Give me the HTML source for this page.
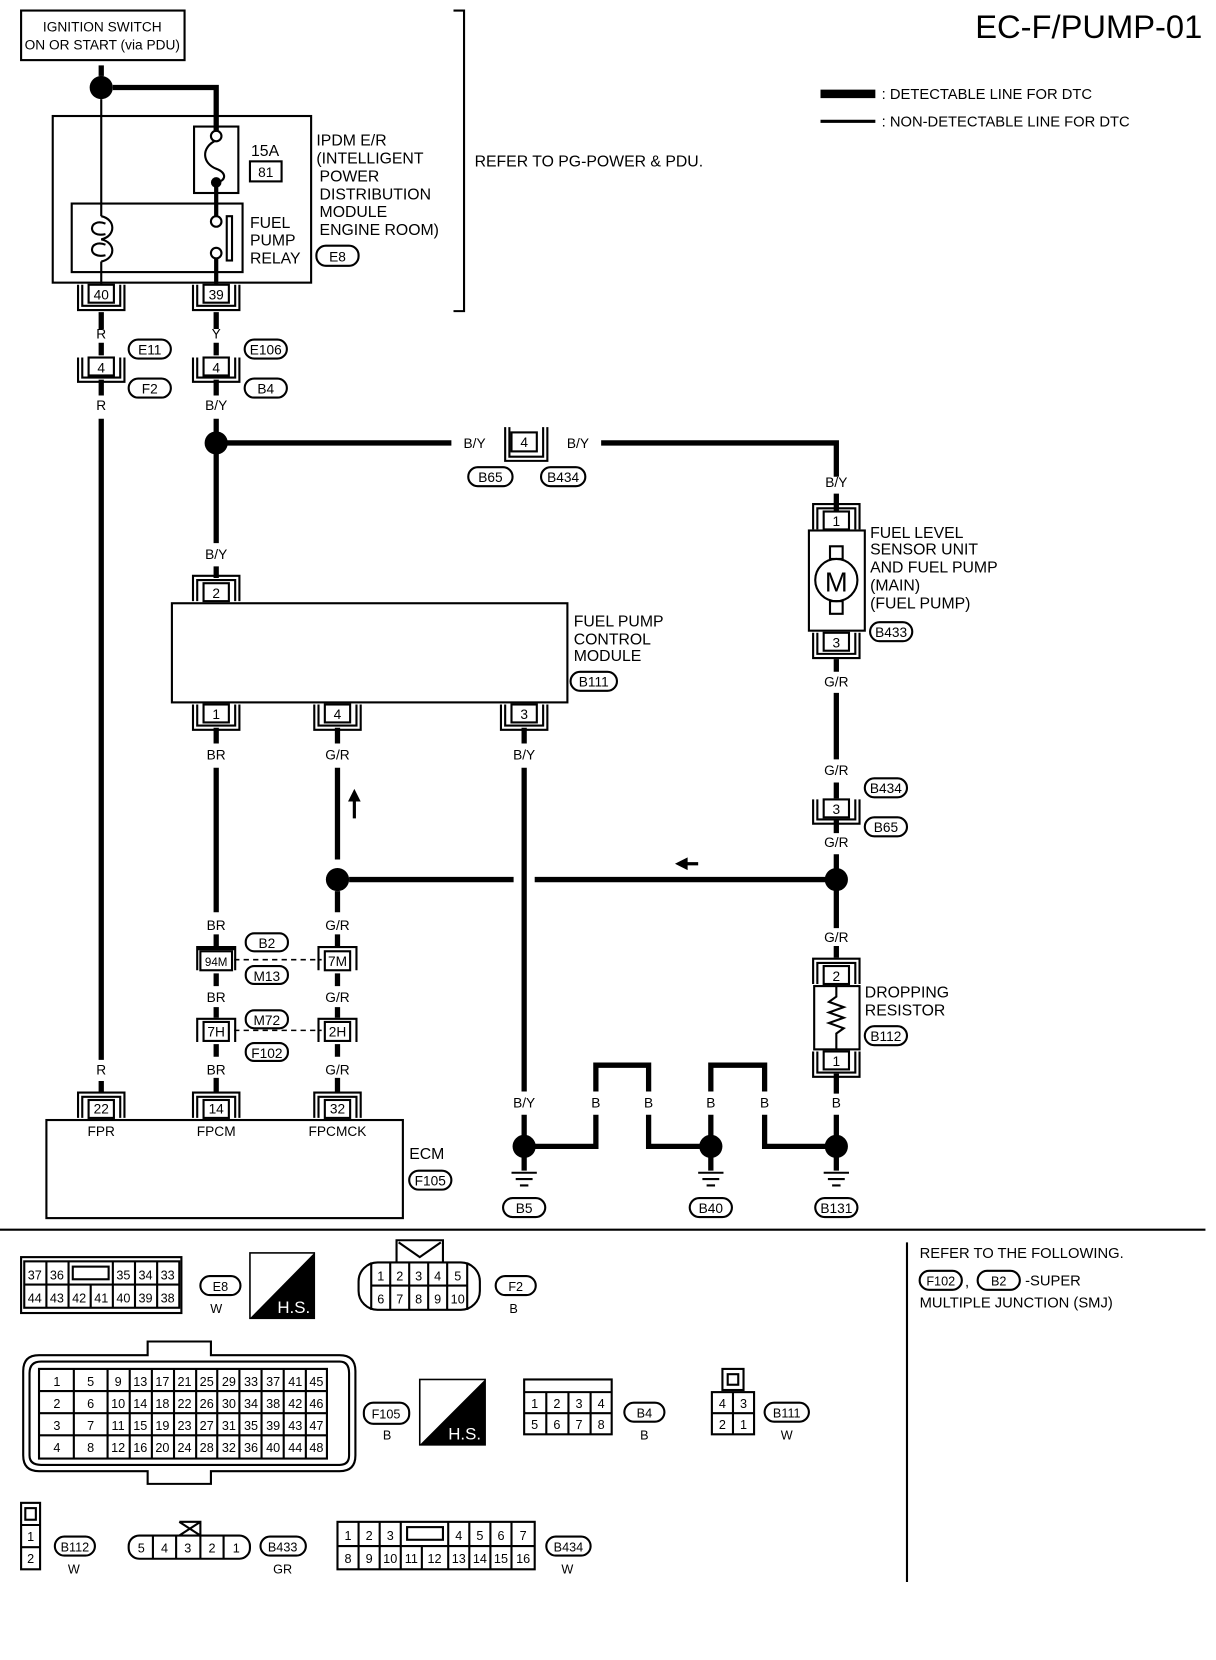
<!DOCTYPE html>
<html><head><meta charset="utf-8"><style>
html,body{margin:0;padding:0;background:#fff}
svg{display:block}
text{font-family:"Liberation Sans",sans-serif;fill:#000}
.s{font-size:14px}
.m{font-size:15px}
.c{font-size:13px;text-anchor:middle}
.n{font-size:12px;text-anchor:middle}
</style></head><body>
<svg width="1216" height="1660" viewBox="0 0 1153 1574" preserveAspectRatio="none" xmlns="http://www.w3.org/2000/svg">
<g fill="none" stroke="#000">
<rect x="20" y="10" width="155" height="47" stroke-width="2"/>
<rect x="50" y="110" width="245" height="158" stroke-width="2"/>
<rect x="184" y="120" width="42" height="63" stroke-width="2"/>
<rect x="68" y="193" width="162" height="65" stroke-width="2"/>
<rect x="237" y="153" width="30" height="19" stroke-width="2"/>
<path d="M96 94V205M96 248V270" stroke-width="2"/>
<path d="M96 62V72" stroke-width="5"/>
<path d="M107 83H205V125" stroke-width="5"/>
<path d="M205 133C190 140 192 155 205 160C216 164 214 172 205 173" stroke-width="2"/>
<path d="M205 173V206M205 244V270" stroke-width="4"/>
<path d="M96 205C110 208 110 224 96 227C110 230 110 245 96 248M100 212C84 206 82 226 100 222M100 232C84 226 82 246 100 242" stroke-width="2"/>
<rect x="215" y="205" width="5" height="42" stroke-width="2"/>
<circle cx="205" cy="129" r="5" stroke-width="2" fill="#fff"/>
<circle cx="205" cy="210" r="5" stroke-width="2" fill="#fff"/>
<circle cx="205" cy="240" r="5" stroke-width="2" fill="#fff"/>
<path d="M430 10H440V295H430" stroke-width="2"/>
<path d="M778 89H830" stroke-width="8"/>
<path d="M778 115H830" stroke-width="3"/>
<g stroke-width="5">
<path d="M96 296V312M96 325V337M96 360V375M96 397V1005M96 1025V1035"/>
<path d="M205 296V312M205 325V337M205 360V375M205 397V420H428M570 420H793V452M793 468V484"/>
<path d="M205 420V515M205 537V548"/>
<path d="M205 690V705M205 728V865M205 886V897M205 923V935M205 955V965M205 990V1002M205 1022V1036"/>
<path d="M320 690V705M320 728V815M320 845V865M320 886V897M320 923V935M320 955V965M320 990V1002M320 1022V1036"/>
<path d="M497 690V705M497 728V1035M497 1057V1080"/>
<path d="M331 834H487M507 834H793"/>
<path d="M793 625V637M793 657V720M793 742V757M793 778V790M793 810V880M793 897V908M793 1018V1037M793 1057V1087"/>
<path d="M497 1087H565V1057M565 1035V1010H615V1035M615 1057V1087H674V1057M674 1035V1010H725V1035M725 1057V1087H793"/>
<path d="M497 1087V1110M674 1087V1110M793 1087V1110"/>
</g>
<path d="M222 910H305M222 977H305" stroke-width="1.5" stroke-dasharray="5,4"/>
<path d="M336 776V758" stroke-width="3"/>
<path d="M645 819H662" stroke-width="3"/>
<g stroke-width="2"><path d="M485 1112H509M489 1118H505M493 1124H501"/><path d="M662 1112H686M666 1118H682M670 1124H678"/><path d="M781 1112H805M785 1118H801M789 1124H797"/></g>
<rect x="163" y="572" width="375" height="94" stroke-width="2"/>
<rect x="767" y="503" width="53" height="95" stroke-width="2"/>
<circle cx="793" cy="550" r="20" stroke-width="2"/>
<rect x="787" y="518" width="12" height="12" stroke-width="2"/>
<rect x="787" y="570" width="12" height="12" stroke-width="2"/>
<rect x="772" y="935" width="43" height="60" stroke-width="2"/>
<path d="M793 935V945L786 950L800 955L786 960L800 965L786 970L800 975L793 980V995" stroke-width="2"/>
<rect x="44" y="1062" width="338" height="93" stroke-width="2"/>
<path d="M0 1166H1143" stroke-width="2"/>
<path d="M860 1178V1500" stroke-width="2"/>
</g>
<g fill="#000">
<circle cx="96" cy="83" r="11"/><circle cx="205" cy="173" r="5"/>
<circle cx="205" cy="420" r="11"/><circle cx="320" cy="834" r="11"/><circle cx="793" cy="834" r="11"/>
<circle cx="497" cy="1087" r="11"/><circle cx="674" cy="1087" r="11"/><circle cx="793" cy="1087" r="11"/>
<path d="M330 760L336 748L342 760Z"/><path d="M640 819L652 813L652 825Z"/>
</g>
<g fill="none" stroke="#000" stroke-width="2">
<path d="M78 270V290H114V270M74 270V294H118V270"/><rect x="84" y="270" width="24" height="17"/>
<path d="M187 270V290H223V270M183 270V294H227V270"/><rect x="193" y="270" width="24" height="17"/>
<path d="M187 668V688H223V668M183 668V692H227V668"/><rect x="193" y="668" width="24" height="17"/>
<path d="M302 668V688H338V668M298 668V692H342V668"/><rect x="308" y="668" width="24" height="17"/>
<path d="M479 668V688H515V668M475 668V692H519V668"/><rect x="485" y="668" width="24" height="17"/>
<path d="M187 570V550H223V570M183 570V546H227V570"/><rect x="193" y="553" width="24" height="17"/>
<path d="M78 1060V1040H114V1060M74 1060V1036H118V1060"/><rect x="84" y="1043" width="24" height="17"/>
<path d="M187 1060V1040H223V1060M183 1060V1036H227V1060"/><rect x="193" y="1043" width="24" height="17"/>
<path d="M302 1060V1040H338V1060M298 1060V1036H342V1060"/><rect x="308" y="1043" width="24" height="17"/>
<path d="M78 339V358H114V339M74 339V362H118V339"/><rect x="84" y="339" width="24" height="17"/>
<path d="M187 339V358H223V339M183 339V362H227V339"/><rect x="193" y="339" width="24" height="17"/>
<path d="M483 405V433H515V405M479 405V437H519V405"/><rect x="485" y="410" width="24" height="18"/>
<path d="M775 758V777H811V758M771 758V781H815V758"/><rect x="781" y="758" width="24" height="17"/>
<path d="M187 920V898H223V920M187 900H223"/><rect x="190" y="902" width="30" height="18"/>
<path d="M302 920V898H338V920"/><rect x="308" y="902" width="24" height="18"/>
<path d="M187 988V966H223V988"/><rect x="193" y="969" width="24" height="18"/>
<path d="M302 988V966H338V988"/><rect x="308" y="969" width="24" height="18"/>
<path d="M775 502V482H811V502M771 502V478H815V502"/><rect x="781" y="485" width="24" height="17"/>
<path d="M775 600V620H811V600M771 600V624H815V600"/><rect x="781" y="600" width="24" height="17"/>
<path d="M775 933V913H811V933M771 933V909H815V933"/><rect x="781" y="916" width="24" height="17"/>
<path d="M775 997V1017H811V997M771 997V1021H815V997"/><rect x="781" y="997" width="24" height="17"/>
<rect x="300" y="233" width="40" height="19" rx="9"/>
<rect x="122" y="322" width="40" height="18" rx="9"/><rect x="122" y="359" width="40" height="18" rx="9"/>
<rect x="232" y="322" width="40" height="18" rx="9"/><rect x="232" y="359" width="40" height="18" rx="9"/>
<rect x="444" y="443" width="42" height="18" rx="9"/><rect x="513" y="443" width="42" height="18" rx="9"/>
<rect x="541" y="637" width="44" height="18" rx="9"/><rect x="825" y="590" width="40" height="18" rx="9"/>
<rect x="820" y="738" width="40" height="18" rx="9"/><rect x="820" y="775" width="40" height="18" rx="9"/>
<rect x="233" y="885" width="40" height="17" rx="8"/><rect x="233" y="916" width="40" height="17" rx="8"/>
<rect x="233" y="958" width="40" height="17" rx="8"/><rect x="233" y="989" width="40" height="17" rx="8"/>
<rect x="820" y="973" width="40" height="18" rx="9"/><rect x="388" y="1110" width="40" height="18" rx="9"/>
<rect x="477" y="1136" width="40" height="18" rx="9"/><rect x="654" y="1136" width="40" height="18" rx="9"/><rect x="773" y="1136" width="40" height="18" rx="9"/>
</g>
<text x="97" y="30" class="c">IGNITION SWITCH</text>
<text x="97" y="47" class="c">ON OR START (via PDU)</text>
<text x="1140" y="36" style="font-size:31px;text-anchor:end">EC-F/PUMP-01</text>
<text x="836" y="94" class="s">: DETECTABLE LINE FOR DTC</text>
<text x="836" y="120" class="s">: NON-DETECTABLE LINE FOR DTC</text>
<text x="238" y="148" class="m">15A</text><text x="252" y="168" class="c">81</text>
<g class="m"><text x="300" y="138">IPDM E/R</text><text x="300" y="155">(INTELLIGENT</text><text x="303" y="172">POWER</text><text x="303" y="189">DISTRIBUTION</text><text x="303" y="206">MODULE</text><text x="303" y="223">ENGINE ROOM)</text>
<text x="237" y="216">FUEL</text><text x="237" y="233">PUMP</text><text x="237" y="250">RELAY</text>
<text x="450" y="158">REFER TO PG-POWER &amp; PDU.</text>
<text x="544" y="594">FUEL PUMP</text><text x="544" y="611">CONTROL</text><text x="544" y="627">MODULE</text>
<text x="825" y="510">FUEL LEVEL</text><text x="825" y="526">SENSOR UNIT</text><text x="825" y="543">AND FUEL PUMP</text><text x="825" y="560">(MAIN)</text><text x="825" y="577">(FUEL PUMP)</text>
<text x="820" y="946">DROPPING</text><text x="820" y="963">RESISTOR</text>
<text x="388" y="1099">ECM</text></g>
<g class="c">
<text x="320" y="248">E8</text><text x="96" y="284">40</text><text x="205" y="284">39</text>
<text x="96" y="321">R</text><text x="205" y="321">Y</text><text x="96" y="353">4</text><text x="205" y="353">4</text>
<text x="142" y="336">E11</text><text x="142" y="373">F2</text><text x="252" y="336">E106</text><text x="252" y="373">B4</text>
<text x="96" y="389">R</text><text x="205" y="389">B/Y</text>
<text x="450" y="425">B/Y</text><text x="497" y="424">4</text><text x="548" y="425">B/Y</text>
<text x="465" y="457">B65</text><text x="534" y="457">B434</text>
<text x="793" y="462">B/Y</text><text x="793" y="499">1</text><text x="793" y="614">3</text>
<text x="793" y="561" style="font-size:26px">M</text>
<text x="845" y="604">B433</text><text x="793" y="651">G/R</text>
<text x="205" y="530">B/Y</text><text x="205" y="567">2</text>
<text x="563" y="651">B111</text>
<text x="205" y="682">1</text><text x="320" y="682">4</text><text x="497" y="682">3</text>
<text x="205" y="720">BR</text><text x="320" y="720">G/R</text><text x="497" y="720">B/Y</text>
<text x="793" y="735">G/R</text><text x="840" y="752">B434</text><text x="793" y="772">3</text><text x="840" y="789">B65</text><text x="793" y="803">G/R</text>
<text x="793" y="893">G/R</text><text x="793" y="930">2</text><text x="793" y="1011">1</text><text x="840" y="987">B112</text>
<text x="205" y="882">BR</text><text x="320" y="882">G/R</text>
<text x="205" y="916" style="font-size:11px">94M</text><text x="320" y="916">7M</text>
<text x="253" y="899">B2</text><text x="253" y="930">M13</text>
<text x="205" y="950">BR</text><text x="320" y="950">G/R</text>
<text x="205" y="983">7H</text><text x="320" y="983">2H</text>
<text x="253" y="972">M72</text><text x="253" y="1003">F102</text>
<text x="96" y="1019">R</text><text x="205" y="1019">BR</text><text x="320" y="1019">G/R</text>
<text x="96" y="1056">22</text><text x="205" y="1056">14</text><text x="320" y="1056">32</text>
<text x="96" y="1077">FPR</text><text x="205" y="1077">FPCM</text><text x="320" y="1077">FPCMCK</text>
<text x="408" y="1124">F105</text>
<text x="497" y="1050">B/Y</text><text x="565" y="1050">B</text><text x="615" y="1050">B</text><text x="674" y="1050">B</text><text x="725" y="1050">B</text><text x="793" y="1050">B</text>
<text x="497" y="1150">B5</text><text x="674" y="1150">B40</text><text x="793" y="1150">B131</text>
</g>
<g fill="none" stroke="#000" stroke-width="2">
<rect x="20" y="1192" width="152" height="53"/>
<rect x="23" y="1196" width="147" height="44"/>
<path d="M23 1218H170M44 1196V1240M65 1196V1240M107 1196V1240M128 1196V1240M149 1196V1240M86 1218V1240"/>
<rect x="69" y="1201" width="34" height="12"/>
<rect x="190" y="1210" width="38" height="18" rx="9"/>
<rect x="340" y="1197" width="115" height="45" rx="18"/>
<path d="M376 1197V1176H420V1197M378 1178L398 1192L418 1178"/>
<path d="M352 1197V1242M443 1197V1242M352 1219H443M370 1197V1242M388 1197V1242M406 1197V1242M424 1197V1242"/>
<rect x="470" y="1210" width="38" height="18" rx="9"/>
<rect x="872" y="1205" width="40" height="18" rx="9"/><rect x="927" y="1205" width="40" height="18" rx="9"/>
<path d="M22 1300Q22 1285 37 1285H140V1272H200V1285H322Q337 1285 337 1300V1380Q337 1395 322 1395H200V1407H140V1395H37Q22 1395 22 1380Z"/>
<path d="M28 1302Q28 1291 39 1291H322Q331 1291 331 1302V1380Q331 1389 322 1389H39Q28 1389 28 1380Z"/>
<rect x="37" y="1298" width="273" height="85"/>
<path d="M37 1319H310M37 1340H310M37 1361H310M70 1298V1383M102 1298V1383M123 1298V1383M144 1298V1383M165 1298V1383M186 1298V1383M206 1298V1383M227 1298V1383M248 1298V1383M269 1298V1383M290 1298V1383"/>
<rect x="345" y="1330" width="43" height="20" rx="9"/>
<rect x="497" y="1308" width="83" height="52"/><path d="M497 1320H580M497 1340H580M518 1320V1360M539 1320V1360M560 1320V1360"/>
<rect x="592" y="1330" width="38" height="18" rx="9"/>
<rect x="675" y="1320" width="40" height="40"/><path d="M675 1340H715M695 1320V1360"/><rect x="685" y="1298" width="20" height="20"/><rect x="690" y="1303" width="10" height="10"/>
<rect x="725" y="1330" width="42" height="18" rx="9"/>
<rect x="20" y="1425" width="18" height="63"/><path d="M20 1446H38M20 1467H38"/><rect x="24" y="1430" width="10" height="11"/>
<rect x="52" y="1457" width="38" height="18" rx="9"/>
<rect x="122" y="1456" width="115" height="22" rx="10"/><path d="M145 1456V1478M167 1456V1478M190 1456V1478M212 1456V1478M170 1443H190V1456M170 1443L190 1456M190 1443L170 1456"/>
<rect x="247" y="1457" width="43" height="18" rx="9"/>
<rect x="320" y="1443" width="187" height="45"/><path d="M320 1466H507M340 1443V1488M360 1443V1488M380 1443V1488M425 1443V1488M445 1443V1488M465 1443V1488M485 1443V1488M400 1466V1488"/>
<rect x="386" y="1448" width="34" height="12"/>
<rect x="518" y="1457" width="42" height="18" rx="9"/>
</g>
<path d="M298 1188V1250H237Z" fill="#000"/><rect x="237" y="1188" width="61" height="62" fill="none" stroke="#000" stroke-width="1.5"/>
<text x="263" y="1245" style="font-size:16px;fill:#fff">H.S.</text>
<path d="M460 1308V1370H398Z" fill="#000"/><rect x="398" y="1308" width="62" height="62" fill="none" stroke="#000" stroke-width="1.5"/>
<text x="425" y="1365" style="font-size:16px;fill:#fff">H.S.</text>
<g class="n">
<text x="33" y="1213">37</text><text x="54" y="1213">36</text><text x="117" y="1213">35</text><text x="138" y="1213">34</text><text x="159" y="1213">33</text>
<text x="33" y="1235">44</text><text x="54" y="1235">43</text><text x="75" y="1235">42</text><text x="96" y="1235">41</text><text x="117" y="1235">40</text><text x="138" y="1235">39</text><text x="159" y="1235">38</text>
<text x="209" y="1224">E8</text><text x="205" y="1245">W</text>
<text x="361" y="1214">1</text><text x="379" y="1214">2</text><text x="397" y="1214">3</text><text x="415" y="1214">4</text><text x="434" y="1214">5</text>
<text x="361" y="1236">6</text><text x="379" y="1236">7</text><text x="397" y="1236">8</text><text x="415" y="1236">9</text><text x="434" y="1236">10</text>
<text x="489" y="1224">F2</text><text x="487" y="1245">B</text>
<text x="892" y="1219">F102</text><text x="947" y="1219">B2</text>
</g>
<text x="872" y="1193" class="s">REFER TO THE FOLLOWING.</text>
<text x="915" y="1220" class="s">,</text><text x="972" y="1219" class="s">-SUPER</text>
<text x="872" y="1240" class="s">MULTIPLE JUNCTION (SMJ)</text>
<g class="n">
<text x="54" y="1314">1</text><text x="86" y="1314">5</text><text x="112" y="1314">9</text><text x="133" y="1314">13</text><text x="154" y="1314">17</text><text x="175" y="1314">21</text><text x="196" y="1314">25</text><text x="217" y="1314">29</text><text x="238" y="1314">33</text><text x="259" y="1314">37</text><text x="280" y="1314">41</text><text x="300" y="1314">45</text>
<text x="54" y="1335">2</text><text x="86" y="1335">6</text><text x="112" y="1335">10</text><text x="133" y="1335">14</text><text x="154" y="1335">18</text><text x="175" y="1335">22</text><text x="196" y="1335">26</text><text x="217" y="1335">30</text><text x="238" y="1335">34</text><text x="259" y="1335">38</text><text x="280" y="1335">42</text><text x="300" y="1335">46</text>
<text x="54" y="1356">3</text><text x="86" y="1356">7</text><text x="112" y="1356">11</text><text x="133" y="1356">15</text><text x="154" y="1356">19</text><text x="175" y="1356">23</text><text x="196" y="1356">27</text><text x="217" y="1356">31</text><text x="238" y="1356">35</text><text x="259" y="1356">39</text><text x="280" y="1356">43</text><text x="300" y="1356">47</text>
<text x="54" y="1377">4</text><text x="86" y="1377">8</text><text x="112" y="1377">12</text><text x="133" y="1377">16</text><text x="154" y="1377">20</text><text x="175" y="1377">24</text><text x="196" y="1377">28</text><text x="217" y="1377">32</text><text x="238" y="1377">36</text><text x="259" y="1377">40</text><text x="280" y="1377">44</text><text x="300" y="1377">48</text>
<text x="366" y="1345">F105</text><text x="367" y="1365">B</text>
<text x="507" y="1335">1</text><text x="528" y="1335">2</text><text x="549" y="1335">3</text><text x="570" y="1335">4</text>
<text x="507" y="1355">5</text><text x="528" y="1355">6</text><text x="549" y="1355">7</text><text x="570" y="1355">8</text>
<text x="611" y="1344">B4</text><text x="611" y="1365">B</text>
<text x="685" y="1335">4</text><text x="705" y="1335">3</text><text x="685" y="1355">2</text><text x="705" y="1355">1</text>
<text x="746" y="1344">B111</text><text x="746" y="1365">W</text>
<text x="29" y="1461">1</text><text x="29" y="1482">2</text>
<text x="71" y="1471">B112</text><text x="70" y="1492">W</text>
<text x="134" y="1472">5</text><text x="156" y="1472">4</text><text x="178" y="1472">3</text><text x="201" y="1472">2</text><text x="224" y="1472">1</text>
<text x="268" y="1471">B433</text><text x="268" y="1492">GR</text>
<text x="330" y="1460">1</text><text x="350" y="1460">2</text><text x="370" y="1460">3</text><text x="435" y="1460">4</text><text x="455" y="1460">5</text><text x="475" y="1460">6</text><text x="496" y="1460">7</text>
<text x="330" y="1482">8</text><text x="350" y="1482">9</text><text x="370" y="1482">10</text><text x="390" y="1482">11</text><text x="412" y="1482">12</text><text x="435" y="1482">13</text><text x="455" y="1482">14</text><text x="475" y="1482">15</text><text x="496" y="1482">16</text>
<text x="539" y="1471">B434</text><text x="538" y="1492">W</text>
</g>
</svg>
</body></html>
